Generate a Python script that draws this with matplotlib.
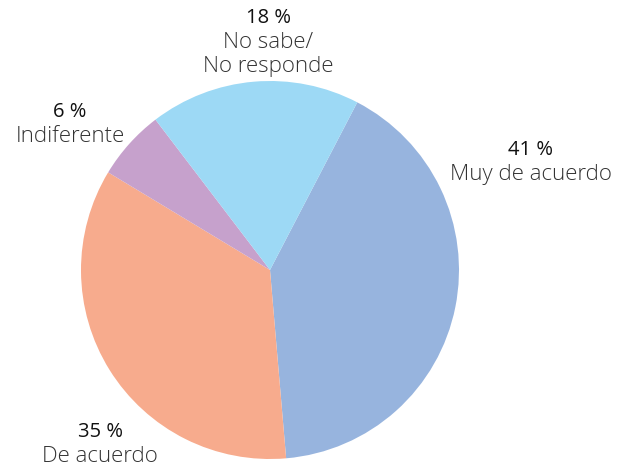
import matplotlib
matplotlib.use("Agg")
import matplotlib.pyplot as plt

categories = ["Muy de acuerdo", "De acuerdo", "Indiferente", "No sabe/\nNo responde"]
values = [41, 35, 6, 18]
colors = ["#97B4DE", "#F7AB8D", "#C6A1CC", "#9DD9F5"]

fig = plt.figure(figsize=(6.17, 4.70), dpi=100)
ax = fig.add_axes([0, 0, 1, 1])

ax.pie(values, colors=colors, startangle=62.5, counterclock=False,
       center=(270, 200), radius=189, frame=True,
       wedgeprops=dict(linewidth=0))
ax.set_xlim(0, 617)
ax.set_ylim(0, 470)
ax.axis("off")

# label anchor positions (pixel coords, y from top) for the percent line
label_pos = [(531, 150), (100, 432), (70, 112), (268, 18)]
for cat, val, (x, y) in zip(categories, values, label_pos):
    ax.text(x, 470 - y, f"{val} %", ha="center", va="center",
            fontsize=14.5, fontweight="normal", color="#111111", family="Open Sans")
    ax.text(x, 470 - y - 14, cat, ha="center", va="top",
            fontsize=16, fontweight=300, color="#333333", family="Open Sans",
            linespacing=1.2)

fig.savefig("out.png", dpi=100)
